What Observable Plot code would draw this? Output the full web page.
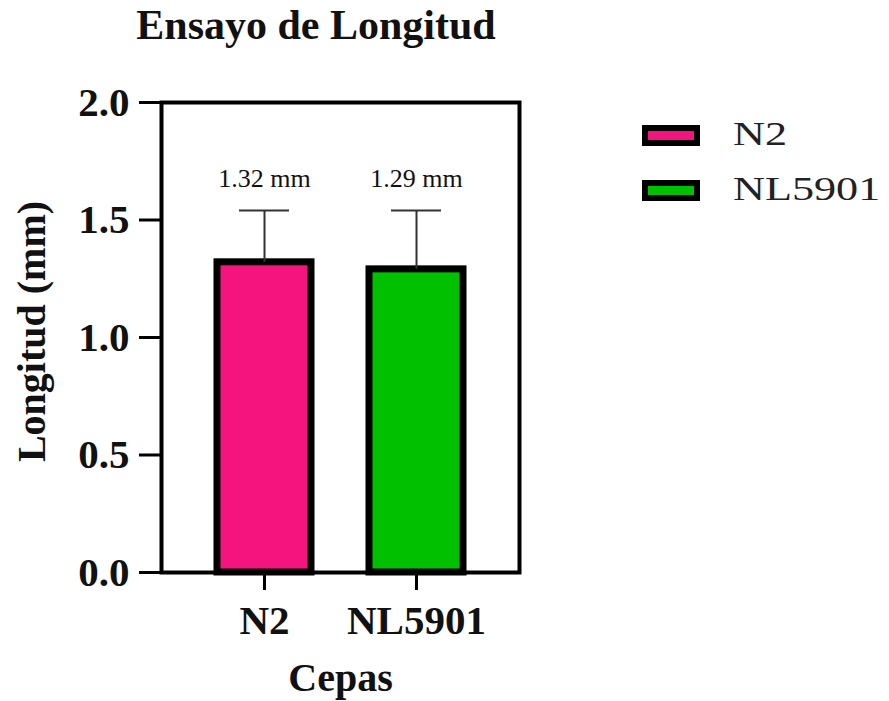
<!DOCTYPE html>
<html>
<head>
<meta charset="utf-8">
<script src="https://cdn.jsdelivr.net/npm/d3@7"></script>
<script src="https://cdn.jsdelivr.net/npm/@observablehq/plot@0.6"></script>
<style>
  html, body { margin: 0; padding: 0; background: #fff; }
  #wrap { position: relative; width: 889px; height: 701px; font-family: "Liberation Serif", "Times New Roman", serif; }
  #title { position: absolute; left: 0; width: 632px; top: 4px; text-align: center; font-size: 42px; font-weight: bold; line-height: 1; color: #111; }
  #legend { position: absolute; left: 642px; top: 125px; }
  .item { position: relative; height: 55px; }
  .sw { position: absolute; left: 0; top: 0; width: 46px; height: 9px; border: 6px solid #000; }
  .lab { position: absolute; left: 91px; top: -8px; font-size: 34px; line-height: 1; color: #222; transform: scaleX(1.3); transform-origin: left top; white-space: nowrap; }
</style>
</head>
<body>
<div id="wrap">
  <div id="title">Ensayo de Longitud</div>
  <div id="chart"></div>
  <div id="legend"></div>
</div>
<script>
const strains = ["N2", "NL5901"];
const means = [1.32, 1.29];
const sds = [0.22, 0.25];
const colors = ["#f5147e", "#00c000"];
const yTicks = [0, 0.5, 1.0, 1.5, 2.0];

const data = strains.map((s, i) => ({strain: s, value: means[i], upper: means[i] + sds[i], label: `${means[i].toFixed(2)} mm`}));

const chart = Plot.plot({
  width: 889,
  height: 701,
  marginLeft: 161,
  marginRight: 370,
  marginTop: 102,
  marginBottom: 129,
  style: {fontFamily: "'Liberation Serif', 'Times New Roman', serif", fontSize: "40px", fontWeight: "bold", color: "#111", background: "transparent"},
  x: {domain: strains, paddingInner: 0.38, paddingOuter: 0.36, axis: null},
  y: {domain: [0, 2], axis: null},
  color: {domain: strains, range: colors},
  marks: [
    Plot.barY(data, {x: "strain", y: "value", fill: "strain", stroke: "#000", strokeWidth: 7}),
    Plot.ruleX(data, {x: "strain", y1: "value", y2: "upper", stroke: "#333", strokeWidth: 2}),
    Plot.tickY(data, {x: "strain", y: "upper", stroke: "#333", strokeWidth: 2, inset: 22}),
    Plot.text(data, {x: "strain", y: "upper", text: "label", dy: -32, fontSize: 26, fontWeight: "normal", fill: "#111"}),
    Plot.frame({stroke: "#000", strokeWidth: 4}),
    Plot.axisY({ticks: yTicks, tickFormat: d3.format(".1f"), tickSize: 22, tickPadding: 10, strokeWidth: 3, stroke: "#000", label: null, fontSize: 41, fontWeight: "bold"}),
    Plot.axisX({tickSize: 18, tickPadding: 14, strokeWidth: 3, stroke: "#000", label: null, fontSize: 41, fontWeight: "bold"}),
    Plot.text(["Longitud (mm)"], {frameAnchor: "left", textAnchor: "middle", lineAnchor: "middle", dx: -129, dy: -6, rotate: -90, fontSize: 40, fontWeight: "bold", fill: "#111"}),
    Plot.text(["Cepas"], {frameAnchor: "bottom", textAnchor: "middle", lineAnchor: "middle", dy: 106, fontSize: 40, fontWeight: "bold", fill: "#111"})
  ]
});
chart.style.position = "absolute";
chart.style.left = "0";
chart.style.top = "0";
document.getElementById("chart").appendChild(chart);

const legend = document.getElementById("legend");
strains.forEach((s, i) => {
  const item = document.createElement("div");
  item.className = "item";
  const sw = document.createElement("div");
  sw.className = "sw";
  sw.style.background = colors[i];
  const lab = document.createElement("div");
  lab.className = "lab";
  lab.textContent = s;
  item.appendChild(sw);
  item.appendChild(lab);
  legend.appendChild(item);
});
</script>
</body>
</html>
